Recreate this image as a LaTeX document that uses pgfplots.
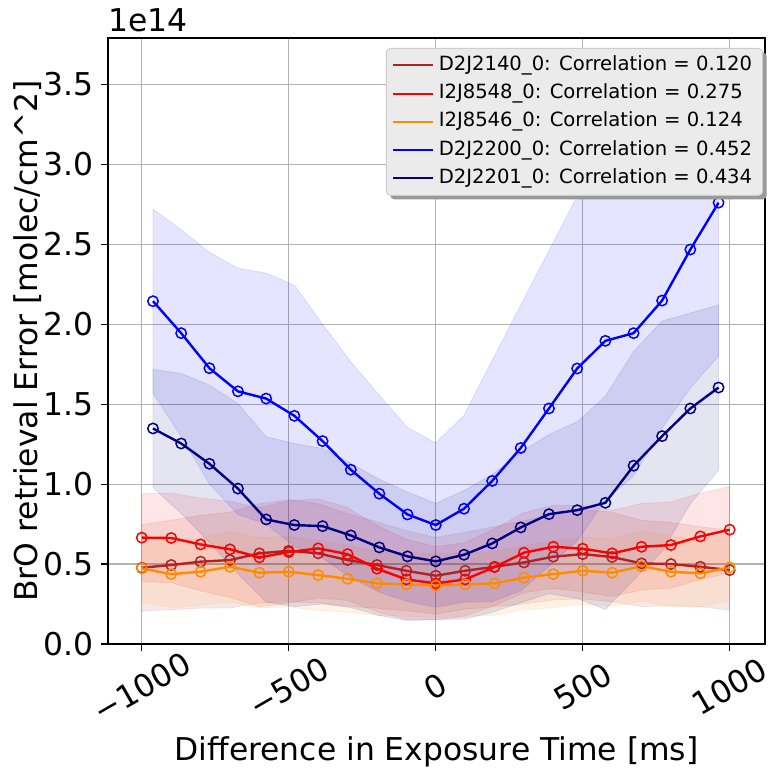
\documentclass[border=0pt]{standalone}
\usepackage{fontspec}
\setmainfont{DejaVu Sans}
\usepackage{pgfplots}
\usepackage{pgfplotstable}
\pgfplotsset{compat=1.18}
\usepgfplotslibrary{fillbetween}
\usetikzlibrary{calc,shadows}

\makeatletter
\tikzset{nopre/.code={\let\tikz@preactions\pgfutil@empty}}
\makeatother

\definecolor{cDR}{HTML}{B22222}
\definecolor{cR}{HTML}{FF0000}
\definecolor{cO}{HTML}{FF8C00}
\definecolor{cB}{HTML}{0000FF}
\definecolor{cN}{HTML}{000080}

% x, mean, lower, upper (units of 1e14)
\pgfplotstableread{
x m lo hi
-1000 0.477 0.207 0.747
-900 0.494 0.214 0.774
-800 0.515 0.225 0.805
-700 0.525 0.225 0.825
-600 0.567 0.257 0.877
-500 0.583 0.263 0.903
-400 0.567 0.257 0.877
-300 0.525 0.235 0.815
-200 0.494 0.224 0.764
-100 0.458 0.208 0.708
0 0.427 0.187 0.667
100 0.458 0.218 0.698
200 0.483 0.233 0.733
300 0.510 0.250 0.770
400 0.546 0.276 0.816
500 0.562 0.282 0.842
600 0.544 0.264 0.824
700 0.504 0.234 0.774
800 0.500 0.240 0.760
900 0.483 0.233 0.733
1000 0.462 0.212 0.712
}\tabA

\pgfplotstableread{
x m lo hi
-1000 0.665 0.390 0.940
-900 0.663 0.383 0.943
-800 0.623 0.333 0.913
-700 0.592 0.292 0.892
-600 0.542 0.232 0.852
-500 0.575 0.255 0.895
-400 0.598 0.288 0.908
-300 0.562 0.273 0.853
-200 0.471 0.201 0.741
-100 0.404 0.154 0.654
0 0.379 0.149 0.609
100 0.404 0.174 0.634
200 0.481 0.241 0.721
300 0.571 0.321 0.821
400 0.608 0.348 0.868
500 0.596 0.326 0.866
600 0.567 0.297 0.837
700 0.608 0.338 0.878
800 0.619 0.349 0.889
900 0.673 0.403 0.943
1000 0.715 0.445 0.985
}\tabB

\pgfplotstableread{
x m lo hi
-1000 0.473 0.263 0.683
-900 0.437 0.227 0.647
-800 0.452 0.242 0.662
-700 0.483 0.263 0.703
-600 0.446 0.226 0.666
-500 0.452 0.232 0.672
-400 0.431 0.211 0.651
-300 0.408 0.198 0.618
-200 0.379 0.179 0.579
-100 0.373 0.173 0.573
0 0.365 0.165 0.565
100 0.373 0.173 0.573
200 0.379 0.179 0.579
300 0.415 0.215 0.615
400 0.437 0.227 0.647
500 0.458 0.248 0.668
600 0.446 0.236 0.656
700 0.487 0.267 0.707
800 0.452 0.232 0.672
900 0.442 0.232 0.652
1000 0.479 0.269 0.689
}\tabC

\pgfplotstableread{
x m lo hi
-962 2.144 1.568 2.720
-866 1.944 1.298 2.590
-770 1.725 1.000 2.450
-673 1.580 0.810 2.350
-577 1.535 0.750 2.320
-481 1.427 0.610 2.244
-385 1.269 0.538 2.000
-289 1.090 0.415 1.765
-192 0.940 0.324 1.556
-96 0.810 0.266 1.354
0 0.744 0.230 1.258
96 0.846 0.262 1.430
192 1.020 0.265 1.775
289 1.226 0.332 2.120
385 1.473 0.486 2.460
481 1.723 0.646 2.800
577 1.896 0.900 2.890
673 1.944 1.050 2.840
770 2.148 1.350 2.950
866 2.467 1.600 3.330
962 2.760 1.800 3.720
}\tabD

\pgfplotstableread{
x m lo hi
-962 1.348 0.979 1.717
-866 1.254 0.816 1.692
-770 1.127 0.635 1.619
-673 0.972 0.440 1.504
-577 0.779 0.262 1.296
-481 0.744 0.234 1.254
-385 0.737 0.251 1.223
-289 0.679 0.228 1.130
-192 0.604 0.178 1.030
-96 0.548 0.146 0.950
0 0.517 0.154 0.880
96 0.558 0.156 0.960
192 0.629 0.198 1.060
289 0.729 0.258 1.200
385 0.812 0.315 1.310
481 0.837 0.285 1.390
577 0.883 0.216 1.550
673 1.115 0.400 1.830
770 1.300 0.580 2.020
866 1.473 0.876 2.070
962 1.604 1.088 2.120
}\tabE

\newcommand{\bigf}{\fontsize{15.7}{18}\selectfont}

\begin{document}
\begin{tikzpicture}
\begin{axis}[
  scale only axis,
  width=328.5pt, height=303pt,
  xmin=-1115, xmax=1120,
  ymin=0, ymax=3.79,
  axis line style={black, line width=0.8pt},
  tick pos=left,
  tick align=outside,
  major tick length=3.5pt,
  tick style={black, line width=0.6pt},
  grid=major,
  grid style={gray!60, line width=0.6pt},
  xtick={-1000,-500,0,500,1000},
  xticklabels={−1000,−500,0,500,1000},
  ytick={0,0.5,1,1.5,2,2.5,3,3.5},
  ticklabel style={font=\bigf},
  yticklabel style={/pgf/number format/.cd, fixed, fixed zerofill, precision=1, assume math mode=true},
  xticklabel style={yshift=-18pt, rotate=30, anchor=center},
  label style={font=\bigf},
  xlabel={Difference in Exposure Time [ms]},
  ylabel={BrO retrieval Error [molec/cm\textasciicircum 2]},
  xlabel style={at={(axis description cs:0.5,-0.1782)}, anchor=center},
  ylabel style={at={(axis description cs:-0.122,0.5)}, anchor=center},
  legend cell align=left,
  legend image code/.code={\draw[nopre, #1, mark=none, line width=1pt] (0pt,0pt) -- (20pt,0pt);},
  legend style={at={(0.997,0.9835)}, anchor=north east,
    font=\fontsize{9.8}{11}\selectfont,
    fill=black!8, draw=black!20,
    rounded corners=2pt,
    drop shadow={shadow xshift=2pt, shadow yshift=-2pt, fill=black!40, opacity=1},
    nodes={nopre, text height=7.4pt, text depth=2.3pt, inner sep=2.2pt},
    inner xsep=3pt, inner ysep=1.5pt},
]
% bands
\addplot[draw=none, forget plot, name path=Ahi] table[x=x, y=hi] {\tabA};
\addplot[draw=none, forget plot, name path=Alo] table[x=x, y=lo] {\tabA};
\addplot[fill=cDR, fill opacity=0.1, draw=cDR, draw opacity=0.1, forget plot] fill between[of=Ahi and Alo];
\addplot[draw=none, forget plot, name path=Bhi] table[x=x, y=hi] {\tabB};
\addplot[draw=none, forget plot, name path=Blo] table[x=x, y=lo] {\tabB};
\addplot[fill=cR, fill opacity=0.1, draw=cR, draw opacity=0.1, forget plot] fill between[of=Bhi and Blo];
\addplot[draw=none, forget plot, name path=Chi] table[x=x, y=hi] {\tabC};
\addplot[draw=none, forget plot, name path=Clo] table[x=x, y=lo] {\tabC};
\addplot[fill=cO, fill opacity=0.1, draw=cO, draw opacity=0.1, forget plot] fill between[of=Chi and Clo];
\addplot[draw=none, forget plot, name path=Dhi] table[x=x, y=hi] {\tabD};
\addplot[draw=none, forget plot, name path=Dlo] table[x=x, y=lo] {\tabD};
\addplot[fill=cB, fill opacity=0.1, draw=cB, draw opacity=0.1, forget plot] fill between[of=Dhi and Dlo];
\addplot[draw=none, forget plot, name path=Ehi] table[x=x, y=hi] {\tabE};
\addplot[draw=none, forget plot, name path=Elo] table[x=x, y=lo] {\tabE};
\addplot[fill=cN, fill opacity=0.1, draw=cN, draw opacity=0.1, forget plot] fill between[of=Ehi and Elo];
% mean lines
\addplot[cDR, line width=1.2pt, mark=o, mark size=2.6pt, mark options={line width=0.75pt}] table[x=x, y=m] {\tabA};
\addlegendentry{D2J2140\_0: Correlation = 0.120}
\addplot[cR, line width=1.2pt, mark=o, mark size=2.6pt, mark options={line width=0.75pt}] table[x=x, y=m] {\tabB};
\addlegendentry{I2J8548\_0: Correlation = 0.275}
\addplot[cO, line width=1.2pt, mark=o, mark size=2.6pt, mark options={line width=0.75pt}] table[x=x, y=m] {\tabC};
\addlegendentry{I2J8546\_0: Correlation = 0.124}
\addplot[cB, line width=1.2pt, mark=o, mark size=2.6pt, mark options={line width=0.75pt}] table[x=x, y=m] {\tabD};
\addlegendentry{D2J2200\_0: Correlation = 0.452}
\addplot[cN, line width=1.2pt, mark=o, mark size=2.6pt, mark options={line width=0.75pt}] table[x=x, y=m] {\tabE};
\addlegendentry{D2J2201\_0: Correlation = 0.434}
\end{axis}
\node[anchor=base west, font=\bigf, inner sep=0pt] at ($(current axis.north west)+(0pt,3pt)$) {1e14};
\pgfresetboundingbox
\path[use as bounding box] ($(current axis.south west)+(-54pt,-66pt)$) rectangle ($(current axis.north east)+(2.5pt,19pt)$);
\end{tikzpicture}
\end{document}
